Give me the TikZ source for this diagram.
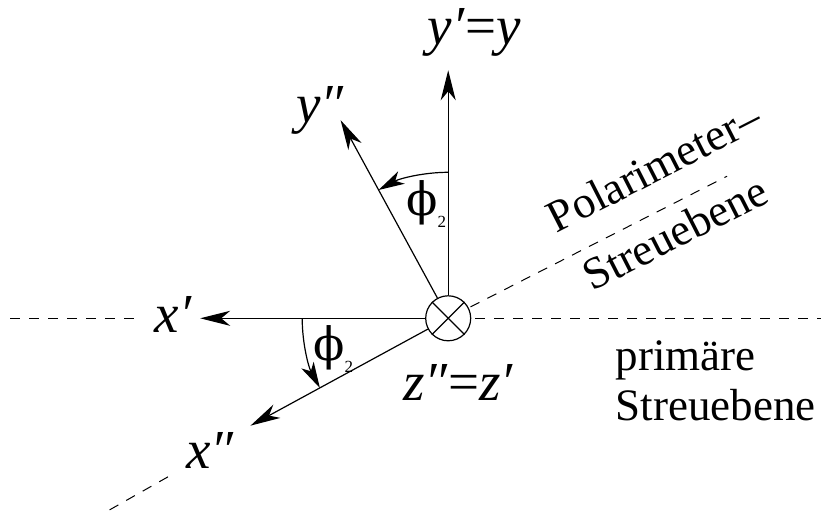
\documentclass[tikz,border=0pt]{standalone}
\usepackage{fontspec}
\setmainfont{Liberation Serif}
\newfontfamily\phifont{DejaVu Serif}
\usetikzlibrary{arrows.meta}
\begin{document}
\begin{tikzpicture}[x=1pt,y=1pt,line width=1.2pt,
  ax/.style={-{Stealth[length=30pt,width=15pt,inset=9pt]}},
  arcarrow/.style={-{Stealth[length=26pt,width=14pt,inset=7pt]}},
  dsh/.style={dash pattern=on 10pt off 9pt,line width=1pt},
  mlbl/.style={font=\fontsize{55}{60}\selectfont,anchor=base,inner sep=0pt},
  philbl/.style={font=\fontsize{46}{50}\selectfont,anchor=base,inner sep=0pt},
  tlbl/.style={font=\fontsize{45}{50}\selectfont,inner sep=0pt}]
\useasboundingbox (-448.2,-194.7) rectangle (372.8,318.3);
% dashed planes
\coordinate (dl1) at (-438,0);
\coordinate (dl2) at (-308,0);
\coordinate (dr1) at (27,0);
\coordinate (dr2) at (372.8,0);
\coordinate (pu1) at (27:25);
\coordinate (pu2) at (27:313);
\coordinate (pl1) at (209.5:322);
\coordinate (pl2) at (209.5:395);
\draw[dsh] (dl1) -- (dl2);
\draw[dsh] (dr1) -- (dr2);
\draw[dsh] (pu1) -- (pu2);
\draw[dsh] (pl1) -- (pl2);
% centre
\node[circle,draw,minimum size=45pt,inner sep=0pt] (O) at (0,0) {};
\draw (O.north west) -- (O.south east);
\draw (O.north east) -- (O.south west);
% axes
\coordinate (yp) at (0,248);
\coordinate (ypp) at (118.5:225.5);
\coordinate (xp) at (-248,0);
\coordinate (xpp) at (208.5:225);
\draw[ax] (O.north) -- (yp);
\draw[ax] (O.118.5) -- (ypp);
\draw[ax] (O.west) -- (xp);
\draw[ax] (O.208.5) -- (xpp);
% angle arcs
\draw[arcarrow] (90:146) arc (90:118.5:146);
\draw[arcarrow] (180:146) arc (180:208.5:146);
% labels
\node[mlbl] (lyp) at (26,274) {\textit{y′}=\textit{y}};
\node[mlbl] (lypp) at (-128,196) {\textit{y″}};
\node[mlbl] (lxp) at (-275,-14) {\textit{x′}};
\node[mlbl] (lxpp) at (-238,-150) {\textit{x″}};
\node[mlbl] (lz) at (10,-82) {\textit{z″}=\textit{z′}};
\node[philbl] (phiA) at (-22,103) {{\phifont ϕ}\raisebox{-12pt}{\fontsize{17}{17}\selectfont 2}};
\node[philbl] (phiB) at (-115,-42) {{\phifont ϕ}\raisebox{-12pt}{\fontsize{17}{17}\selectfont 2}};
\node[tlbl,anchor=base,rotate=27] (pol) at (212.3,137.8) {Polarimeter–};
\node[tlbl,anchor=base,rotate=27] (str) at (233.8,71.8) {Streuebene};
\node[tlbl,anchor=base west] (prim) at (167,-52) {primäre};
\node[tlbl,anchor=base west] (str2) at (167,-102) {Streuebene};
\end{tikzpicture}
\end{document}
